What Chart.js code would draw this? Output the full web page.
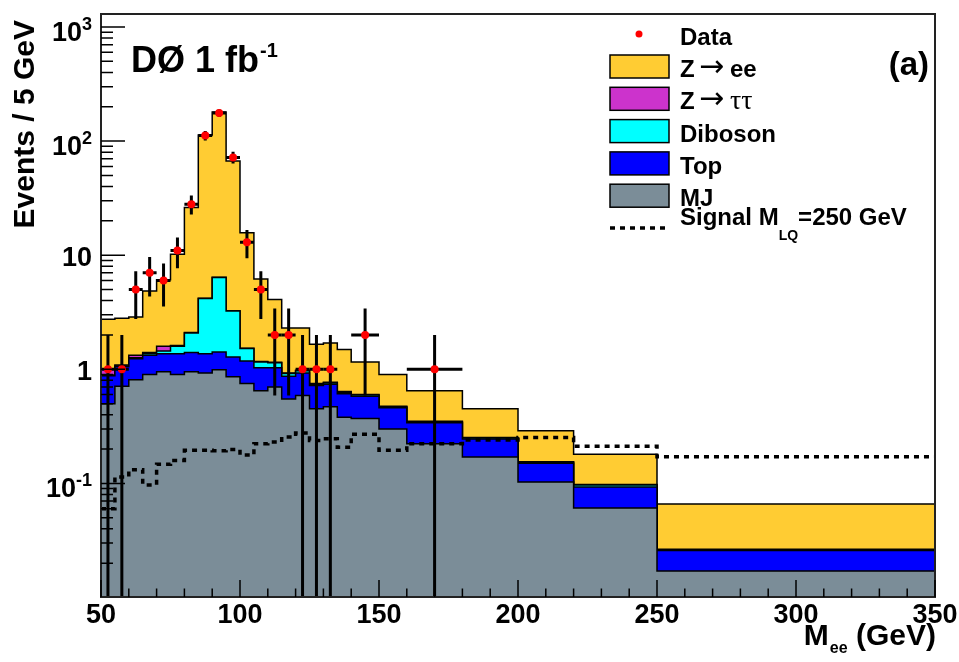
<!DOCTYPE html>
<html>
<head>
<meta charset="utf-8">
<script src="https://cdn.jsdelivr.net/npm/chart.js@4.4.1/dist/chart.umd.min.js"></script>
<style>
  body { margin: 0; background: #fff; }
  #wrap { width: 959px; height: 662px; }
</style>
</head>
<body>
<div id="wrap"><canvas id="massChart"></canvas></div>
<script>
/* ================= DATA ================= */
// lower edges of the bins, plus the last upper edge
const binEdges = [50, 55, 60, 65, 70, 75, 80, 85, 90, 95, 100, 105, 110, 115, 120, 125, 130, 135,
                  140, 150, 160, 180, 200, 220, 250, 350];

// background components (events / 5 GeV), bottom of the stack first
const mjValues      = [0.50, 0.71, 0.81, 0.90, 0.95, 0.90, 0.95, 0.93, 0.99, 0.86, 0.75, 0.65, 0.70, 0.55, 0.59, 0.45, 0.47, 0.38, 0.37, 0.30, 0.223, 0.17, 0.103, 0.061, 0.0171];
const topValues     = [0.38, 0.35, 0.43, 0.43, 0.42, 0.47, 0.45, 0.44, 0.43, 0.42, 0.43, 0.38, 0.33, 0.32, 0.34, 0.27, 0.27, 0.23, 0.21, 0.16, 0.117, 0.075, 0.047, 0.032, 0.0087];
const dibosonValues = [0.01, 0.01, 0.02, 0.04, 0.08, 0.22, 0.68, 2.8, 4.95, 1.96, 0.34, 0.13, 0.11, 0.05, 0.04, 0.02, 0.02, 0.02, 0.015, 0.01, 0.005, 0.005, 0.003, 0.004, 0.0004];
const zttValues     = [0.12, 0.02, 0.07, 0.03, 0.14, 0.03, 0.02, 0.03, 0.03, 0.02, 0.01, 0.01, 0.01, 0.01, 0.01, 0.01, 0.01, 0.01, 0.005, 0.005, 0.005, 0.002, 0.002, 0.001, 0.0003];
const zeeValues     = [1.73, 1.71, 1.55, 3.46, 4.51, 8.58, 24.1, 108.8, 173.6, 63.7, 14.2, 5.03, 2.94, 1.37, 1.32, 0.91, 0.93, 0.85, 0.56, 0.425, 0.30, 0.198, 0.135, 0.082, 0.0395];

// signal M_LQ = 250 GeV
const signalValues  = [0.060, 0.114, 0.132, 0.097, 0.147, 0.159, 0.195, 0.195, 0.193, 0.198, 0.177, 0.223, 0.23, 0.255, 0.276, 0.238, 0.246, 0.207, 0.27, 0.195, 0.223, 0.24, 0.252, 0.212, 0.171];

// data (null = empty bin) and its error
const dataValues = [1, 1, 5, 7, 6, 11, 28, 112, 176, 72, 13, 5, 2, 2, 1, 1, 1, null, 2, null, 1, null, null, null, null];
const dataErrors = [1, 1, 2.24, 2.65, 2.45, 3.32, 5.29, 10.6, 13.3, 8.49, 3.61, 2.24, 1.41, 1.41, 1, 1, 1, null, 1.41, null, 1, null, null, null, null];

// axis ticks
const xTicks = [50, 100, 150, 200, 250, 300, 350];
const yTicks = [0.1, 1, 10, 100, 1000];
const yTickLabels = [["10", "-1"], ["1", ""], ["10", ""], ["10", "2"], ["10", "3"]];

const FONT = "'Liberation Sans', Arial, Helvetica, sans-serif";

/* ================= HELPERS ================= */
function stepPoints(values) {
  const pts = values.map((v, i) => ({ x: binEdges[i], y: v }));
  pts.push({ x: binEdges[binEdges.length - 1], y: values[values.length - 1] });
  return pts;
}

const stackLayers = [
  { label: "MJ", values: mjValues, color: "#7b8d98" },
  { label: "Top", values: topValues, color: "#0000ff" },
  { label: "Diboson", values: dibosonValues, color: "#00ffff" },
  { label: "Z → ττ", values: zttValues, color: "#cc33cc" },
  { label: "Z → ee", values: zeeValues, color: "#ffcc33" }
];

// running sums for the stack
let running = mjValues.map(() => 0);
const stackDatasets = stackLayers.map((layer, k) => {
  running = running.map((v, i) => v + layer.values[i]);
  return {
    label: layer.label,
    data: stepPoints(running),
    stepped: true,
    borderColor: "#000",
    borderWidth: 1.5,
    backgroundColor: layer.color,
    fill: k === 0 ? "start" : "-1",
    pointRadius: 0
  };
});

const dataPoints = [];
dataValues.forEach((v, i) => {
  if (v != null) dataPoints.push({ x: (binEdges[i] + binEdges[i + 1]) / 2, y: v });
});

/* ================= PLUGINS ================= */
const errorBars = {
  id: "errorBars",
  beforeDatasetDraw(chart, args) {
    if (args.index !== 0) return;
    const { ctx, chartArea, scales: { x, y } } = chart;
    ctx.save();
    ctx.beginPath();
    ctx.rect(chartArea.left, chartArea.top, chartArea.width, chartArea.height);
    ctx.clip();
    ctx.strokeStyle = "#000";
    ctx.lineWidth = 3;
    dataValues.forEach((v, i) => {
      if (v == null) return;
      const xc = x.getPixelForValue((binEdges[i] + binEdges[i + 1]) / 2);
      const yc = y.getPixelForValue(v);
      const lo = v - dataErrors[i];
      const yLo = lo > y.min ? y.getPixelForValue(lo) : chartArea.bottom;
      const yHi = y.getPixelForValue(v + dataErrors[i]);
      ctx.beginPath();
      ctx.moveTo(xc, yHi);
      ctx.lineTo(xc, yLo);
      ctx.moveTo(x.getPixelForValue(binEdges[i]), yc);
      ctx.lineTo(x.getPixelForValue(binEdges[i + 1]), yc);
      ctx.stroke();
    });
    ctx.restore();
  }
};

const rootStyle = {
  id: "rootStyle",
  afterDraw(chart) {
    const { ctx, chartArea: a, scales: { x, y } } = chart;
    ctx.save();

    // frame
    ctx.strokeStyle = "#222";
    ctx.lineWidth = 2;
    ctx.strokeRect(a.left, a.top, a.width, a.height);

    // ticks (inside)
    ctx.strokeStyle = "#000";
    ctx.lineWidth = 1.5;
    ctx.beginPath();
    for (let v = 50; v <= 350; v += 10) {
      const px = x.getPixelForValue(v);
      const len = v % 50 === 0 ? 17 : 8.5;
      ctx.moveTo(px, a.bottom);
      ctx.lineTo(px, a.bottom - len);
    }
    for (let d = -2; d <= 3; d++) {
      for (let m = 1; m <= 9; m++) {
        const v = m * Math.pow(10, d);
        if (v < y.min || v > y.max) continue;
        const py = y.getPixelForValue(v);
        const len = m === 1 ? 24 : 12;
        ctx.moveTo(a.left, py);
        ctx.lineTo(a.left + len, py);
      }
    }
    ctx.stroke();

    ctx.fillStyle = "#000";
    ctx.textBaseline = "alphabetic";

    // x labels
    ctx.font = "bold 27px " + FONT;
    ctx.textAlign = "center";
    xTicks.forEach(v => ctx.fillText(String(v), x.getPixelForValue(v), 623));

    // y labels with superscripts
    ctx.textAlign = "left";
    yTicks.forEach((v, i) => {
      const [base, sup] = yTickLabels[i];
      const ty = y.getPixelForValue(v);
      ctx.font = "bold 27px " + FONT;
      const wb = ctx.measureText(base).width;
      ctx.font = "bold 18px " + FONT;
      const ws = sup ? ctx.measureText(sup).width : 0;
      const x0 = 92 - wb - ws;
      ctx.font = "bold 27px " + FONT;
      ctx.fillText(base, x0, sup ? ty + 14 : ty + 11);
      if (sup) {
        ctx.font = "bold 18px " + FONT;
        ctx.fillText(sup, x0 + wb, ty + 3);
      }
    });

    // y title
    ctx.save();
    ctx.translate(34, 20);
    ctx.rotate(-Math.PI / 2);
    ctx.textAlign = "right";
    ctx.font = "bold 30px " + FONT;
    ctx.fillText("Events / 5 GeV", 0, 0);
    ctx.restore();

    // x title: M_ee (GeV)
    ctx.textAlign = "left";
    ctx.font = "bold 30px " + FONT;
    const wGev = ctx.measureText(" (GeV)").width;
    const wM = ctx.measureText("M").width;
    ctx.font = "bold 16px " + FONT;
    const wEe = ctx.measureText("ee").width;
    let tx = a.right - wGev - wEe - wM;
    ctx.font = "bold 30px " + FONT;
    ctx.fillText("M", tx, 645);
    ctx.font = "bold 16px " + FONT;
    ctx.fillText("ee", tx + wM + 1, 653);
    ctx.font = "bold 30px " + FONT;
    ctx.fillText(" (GeV)", tx + wM + wEe + 1, 645);

    // experiment label
    ctx.font = "bold 36px " + FONT;
    ctx.fillText("DØ 1 fb", 131, 72);
    const wD = ctx.measureText("DØ 1 fb").width;
    ctx.font = "bold 20px " + FONT;
    ctx.fillText("-1", 131 + wD + 1, 57);

    // panel label
    ctx.font = "bold 33px " + FONT;
    ctx.textAlign = "right";
    ctx.fillText("(a)", 929, 75);
    ctx.textAlign = "left";

    // legend
    const lx = 610, tx0 = 680;
    ctx.fillStyle = "#ff0000";
    ctx.beginPath();
    ctx.arc(639, 34, 3.5, 0, Math.PI * 2);
    ctx.fill();
    ctx.fillStyle = "#000";
    ctx.font = "bold 24px " + FONT;
    ctx.fillText("Data", tx0, 45);

    const rows = [stackLayers[4], stackLayers[3], stackLayers[2], stackLayers[1], stackLayers[0]];
    rows.forEach((layer, k) => {
      const top = 55 + 32.3 * k;
      ctx.fillStyle = layer.color;
      ctx.fillRect(lx, top, 59, 23);
      ctx.strokeStyle = "#000";
      ctx.lineWidth = 1.5;
      ctx.strokeRect(lx, top, 59, 23);
      ctx.fillStyle = "#000";
      const base = top + 22;
      if (k === 0 || k === 1) {
        ctx.font = "bold 24px " + FONT;
        ctx.fillText("Z", tx0, base);
        ctx.font = "30px 'DejaVu Sans', sans-serif";
        ctx.fillText("→", 699, base - 1);
        if (k === 0) {
          ctx.font = "bold 24px " + FONT;
          ctx.fillText("ee", 730, base);
        } else {
          ctx.font = "28px 'Liberation Serif', 'DejaVu Serif', serif";
          ctx.fillText("ττ", 730, base);
        }
      } else {
        ctx.font = "bold 24px " + FONT;
        ctx.fillText(layer.label, tx0, base);
      }
    });

    // signal legend entry
    ctx.strokeStyle = "#000";
    ctx.lineWidth = 3.5;
    ctx.setLineDash([5, 5]);
    ctx.beginPath();
    ctx.moveTo(lx, 228);
    ctx.lineTo(lx + 58, 228);
    ctx.stroke();
    ctx.setLineDash([]);
    ctx.font = "bold 24px " + FONT;
    ctx.fillText("Signal M", tx0, 225);
    const wS = ctx.measureText("Signal M").width;
    ctx.font = "bold 14px " + FONT;
    ctx.fillText("LQ", tx0 + wS, 240);
    const wLQ = ctx.measureText("LQ").width;
    ctx.font = "bold 24px " + FONT;
    ctx.fillText("=250 GeV", tx0 + wS + wLQ, 225);

    ctx.restore();
  }
};

/* ================= CHART ================= */
const ctx = document.getElementById("massChart").getContext("2d");
new Chart(ctx, {
  type: "line",
  data: {
    datasets: [
      {
        label: "Data",
        data: dataPoints,
        showLine: false,
        pointRadius: 4,
        pointBackgroundColor: "#ff0000",
        pointBorderWidth: 0,
        pointBorderColor: "#ff0000"
      },
      {
        label: "Signal MLQ=250 GeV",
        data: stepPoints(signalValues),
        stepped: true,
        borderColor: "#000",
        borderWidth: 3.5,
        borderDash: [5, 5],
        fill: false,
        pointRadius: 0
      },
      ...stackDatasets
    ]
  },
  options: {
    responsive: true,
    maintainAspectRatio: false,
    animation: false,
    layout: { padding: { left: 101, right: 24, top: 14, bottom: 65 } },
    scales: {
      x: { type: "linear", min: 50, max: 350, display: false },
      y: { type: "logarithmic", min: 0.0101, max: 1300, display: false }
    },
    plugins: {
      legend: { display: false },
      tooltip: { enabled: false }
    }
  },
  plugins: [errorBars, rootStyle]
});
</script>
</body>
</html>
